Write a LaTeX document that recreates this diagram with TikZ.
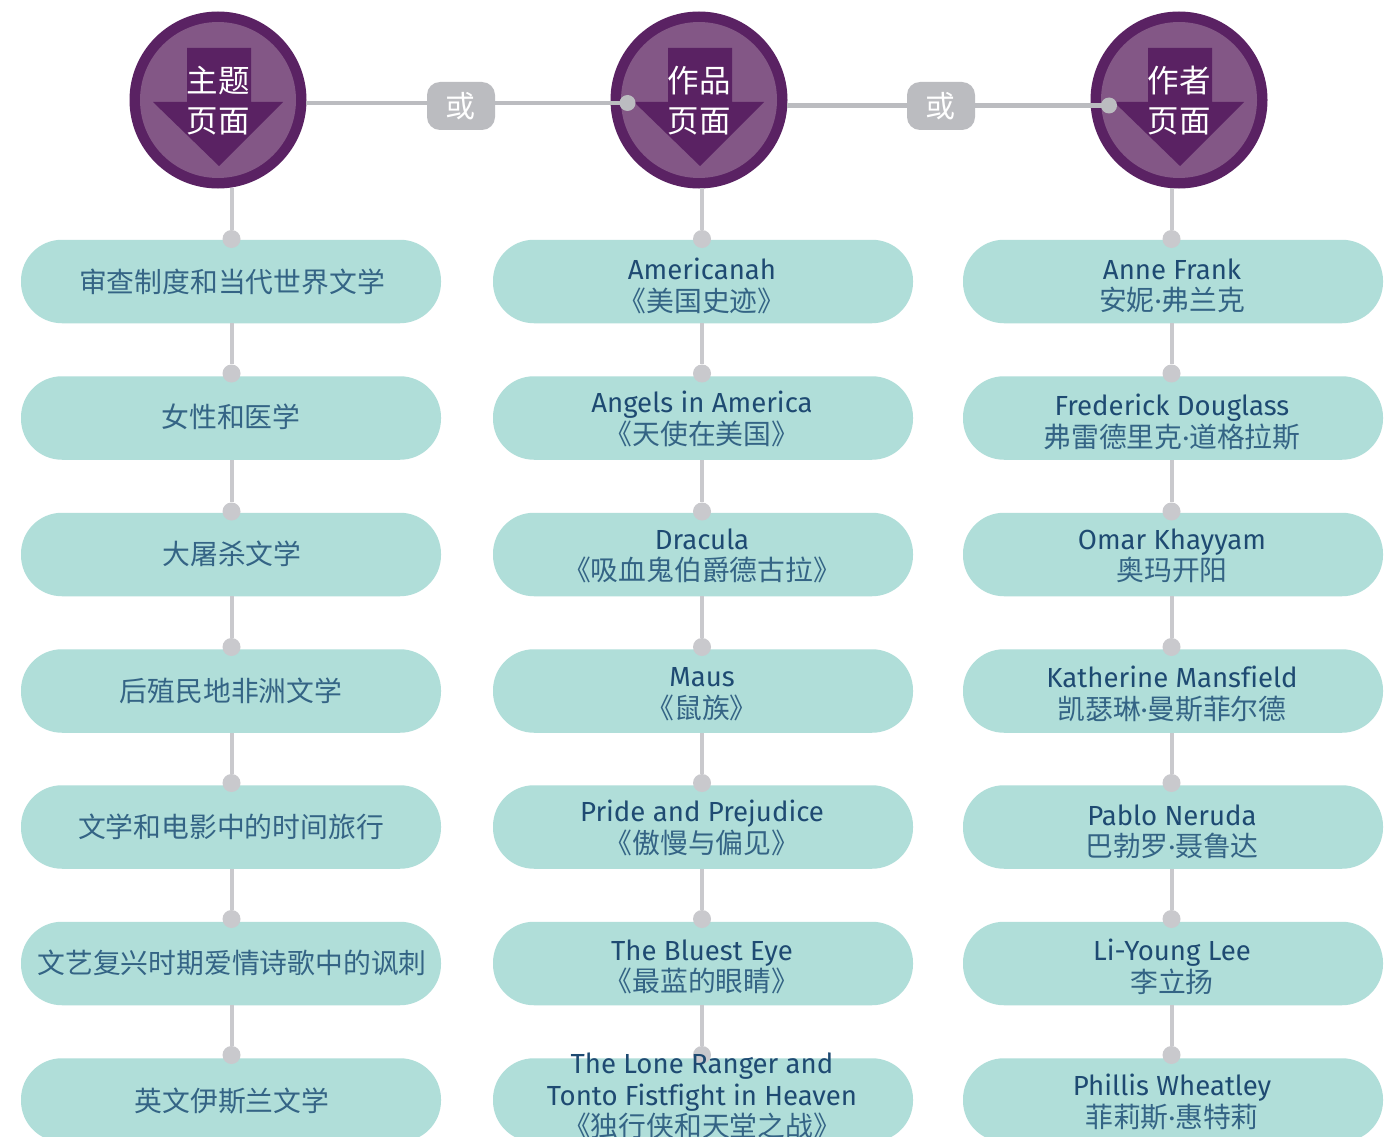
\documentclass[tikz,border=0pt]{standalone}
\usepackage{fontspec}
\setmainfont[Ligatures=NoCommon]{Fira Sans}
\newfontfamily\cjk{Noto Sans CJK SC}
\definecolor{pillc}{HTML}{B0DED9}
\definecolor{ink}{HTML}{1E4A72}
\definecolor{cjkink}{HTML}{346485}
\definecolor{linec}{HTML}{C9C9CD}
\definecolor{grayb}{HTML}{BBBCC0}
\definecolor{purpd}{HTML}{5A2263}
\definecolor{purpl}{HTML}{835786}
\newcommand{\zh}[1]{{\cjk\fontsize{27.8}{31}\selectfont\color{cjkink}#1}}
\newcommand{\zd}{{\rmfamily\fontsize{27.8}{31}\selectfont\color{cjkink}·}}
\tikzset{
  x=1pt,y=-1pt,
  pill/.style={fill=pillc,draw=none,rounded corners=41pt,minimum width=420pt,minimum height=83.5pt,inner sep=0pt},
  lab/.style={align=center,font=\fontsize{27.6}{31.5}\selectfont,text=ink,inner sep=0pt},
  conn/.style={draw=linec,line width=4pt},
  hconn/.style={draw=grayb,line width=4.5pt},
  dotn/.style={circle,fill=linec,draw=none,minimum size=18pt,inner sep=0pt},
  hdot/.style={circle,fill=grayb,draw=none,minimum size=16pt,inner sep=0pt},
  orbox/.style={fill=grayb,draw=none,rounded corners=13pt,minimum width=68pt,minimum height=48pt,inner sep=0pt,text=white,font=\cjk\fontsize{30}{31}\selectfont},
  outer/.style={circle,fill=purpd,draw=none,minimum size=177pt,inner sep=0pt},
  inner/.style={circle,fill=purpl,draw=none,minimum size=156pt,inner sep=0pt},
  arrowf/.style={fill=purpd,draw=none},
  headt/.style={text=white,font=\cjk\fontsize{31.5}{40}\selectfont,align=center,inner sep=0pt},
}
\newcommand{\headc}[4]{% name, x, l1, l2
  \node[outer] (#1) at (#2,100) {};
  \node[inner] at (#2,100) {};
  \fill[arrowf] (#2-31,48) -- (#2+33,48) -- (#2+33,102) -- (#2+65,102) -- (#2+1,166) -- (#2-65,102) -- (#2-31,102) -- cycle;
  \node[headt] at (#2,100.5) {#3\\#4};
}
\begin{document}
\begin{tikzpicture}
\clip (0,0) rectangle (1397,1137);
\fill[white] (0,0) rectangle (1397,1137);
% pills
\foreach \n/\cy in {1/281.5,2/418,3/554.5,4/691,5/827,6/963.5,7/1100}{
  \node[pill] (a\n) at (231,\cy) {};
  \node[pill] (b\n) at (703,\cy) {};
  \node[pill] (c\n) at (1173,\cy) {};
}
% top circles
\headc{ha}{218}{主题}{页面}
\headc{hb}{699}{作品}{页面}
\headc{hc}{1179}{作者}{页面}
% or boxes and links
\coordinate (ha1) at (306,103);
\coordinate (hb0) at (627.5,103);
\coordinate (hb1) at (787,105.5);
\coordinate (hc0) at (1109,105.5);
\draw[hconn] (ha1) -- (hb0);
\draw[hconn] (hb1) -- (hc0);
\node[orbox] (or1) at (461,106) {\hspace{-2pt}或};
\node[orbox] (or2) at (941,106) {\hspace{-2pt}或};
\node[hdot] (db) at (hb0) {};
\node[hdot] (dc) at (hc0) {};
% vertical connectors
\foreach \col/\x in {a/231.5,b/702,c/1171.5}{
  \foreach \n/\dy/\sy in {1/239/188,2/373.5/323,3/511.5/460,4/647/596,5/783/733,6/919/869,7/1055/1005}{
    \coordinate (\col s\n) at (\x,\sy);
    \node[dotn] (\col d\n) at (\x,\dy) {};
    \draw[conn] (\col s\n) -- (\col d\n);
  }
}
% left labels
\node[lab] at (232,281.5) {\zh{审查制度和当代世界文学}};
\node[lab] at (231,416.5) {\zh{女性和医学}};
\node[lab] at (232,553.5) {\zh{大屠杀文学}};
\node[lab] at (231,690.5) {\zh{后殖民地非洲文学}};
\node[lab] at (231,826.5) {\zh{文学和电影中的时间旅行}};
\node[lab] at (232,962.5) {\zh{文艺复兴时期爱情诗歌中的讽刺}};
\node[lab] at (232,1101.5) {\zh{英文伊斯兰文学}};
% middle labels
\node[lab] at (702,286) {Americanah\\\zh{《美国史迹》}};
\node[lab] at (702,419) {Angels in America\\\zh{《天使在美国》}};
\node[lab] at (702,556) {Dracula\\\zh{《吸血鬼伯爵德古拉》}};
\node[lab] at (702,694) {Maus\\\zh{《鼠族》}};
\node[lab] at (702,828) {Pride and Prejudice\\\zh{《傲慢与偏见》}};
\node[lab] at (702,967) {The Bluest Eye\\\zh{《最蓝的眼睛》}};
\node[lab] at (702,1096) {The Lone Ranger and\\Tonto Fistfight in Heaven\\\zh{《独行侠和天堂之战》}};
% right labels
\node[lab] at (1172,286) {Anne Frank\\\zh{安妮}\zd\zh{弗兰克}};
\node[lab] at (1172,422) {Frederick Douglass\\\zh{弗雷德里克}\zd\zh{道格拉斯}};
\node[lab] at (1172,556) {Omar Khayyam\\\zh{奥玛开阳}};
\node[lab] at (1172,694) {Katherine Mansfield\\\zh{凯瑟琳}\zd\zh{曼斯菲尔德}};
\node[lab] at (1172,832) {Pablo Neruda\\\zh{巴勃罗}\zd\zh{聂鲁达}};
\node[lab] at (1172,967) {Li-Young Lee\\\zh{李立扬}};
\node[lab] at (1172,1102) {Phillis Wheatley\\\zh{菲莉斯}\zd\zh{惠特莉}};
\end{tikzpicture}
\end{document}
